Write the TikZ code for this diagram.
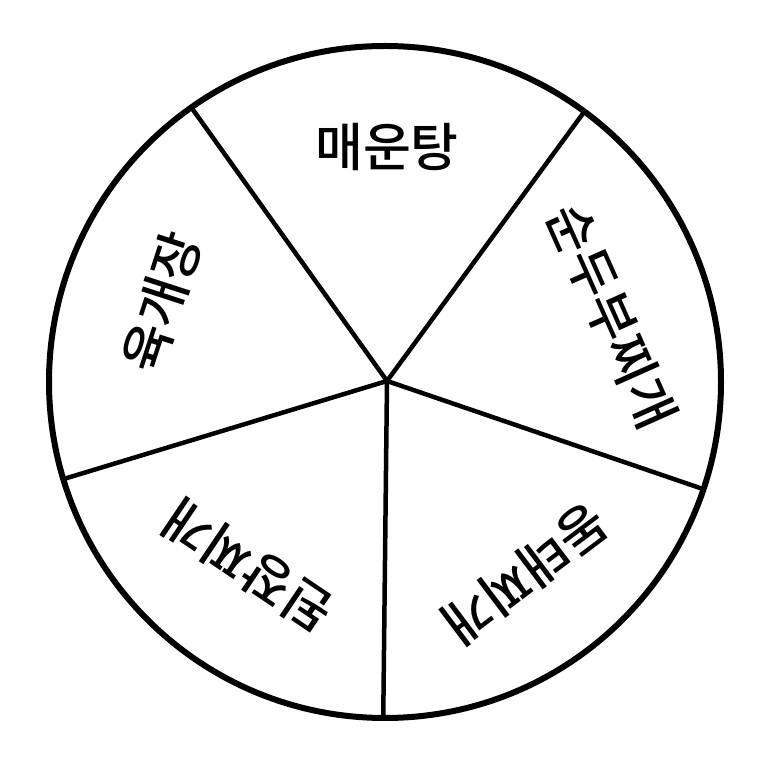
\documentclass[tikz,border=0pt]{standalone}
\usepackage{fontspec}
\newfontfamily\kr{Noto Sans CJK KR Medium}
\usetikzlibrary{calc}
\begin{document}
\begin{tikzpicture}[x=1pt,y=1pt,
  rim/.style={line width=6pt},
  spoke/.style={line width=4.5pt},
  dish/.style={font=\kr\fontsize{52}{52}\selectfont, inner sep=0pt}]
\useasboundingbox (0,0) rectangle (764,764);
\fill[white] (0,0) rectangle (764,764);
\coordinate (C) at (385,382);
\coordinate (H) at (387,383);
\draw[rim] (C) circle (336);
\coordinate (p1) at ($(C)+(125.2:336)$);
\coordinate (p2) at ($(C)+(53.6:336)$);
\coordinate (p3) at ($(C)+(-18.6:336)$);
\coordinate (p4) at ($(C)+(-90.3:336)$);
\coordinate (p5) at ($(C)+(196.8:336)$);
\foreach \p in {p1,p2,p3,p4,p5} \draw[spoke] (H) -- (\p);
\node[dish] (t1) at (387,617) {매운탕};
\node[dish, rotate=-66] (t2) at (612,448) {순두부찌개};
\node[dish, rotate=-143] (t3) at (525,190) {동태찌개};
\node[dish, rotate=146] (t4) at (248,198) {된장찌개};
\node[dish, rotate=72] (t5) at (162,462) {육개장};
\end{tikzpicture}
\end{document}
